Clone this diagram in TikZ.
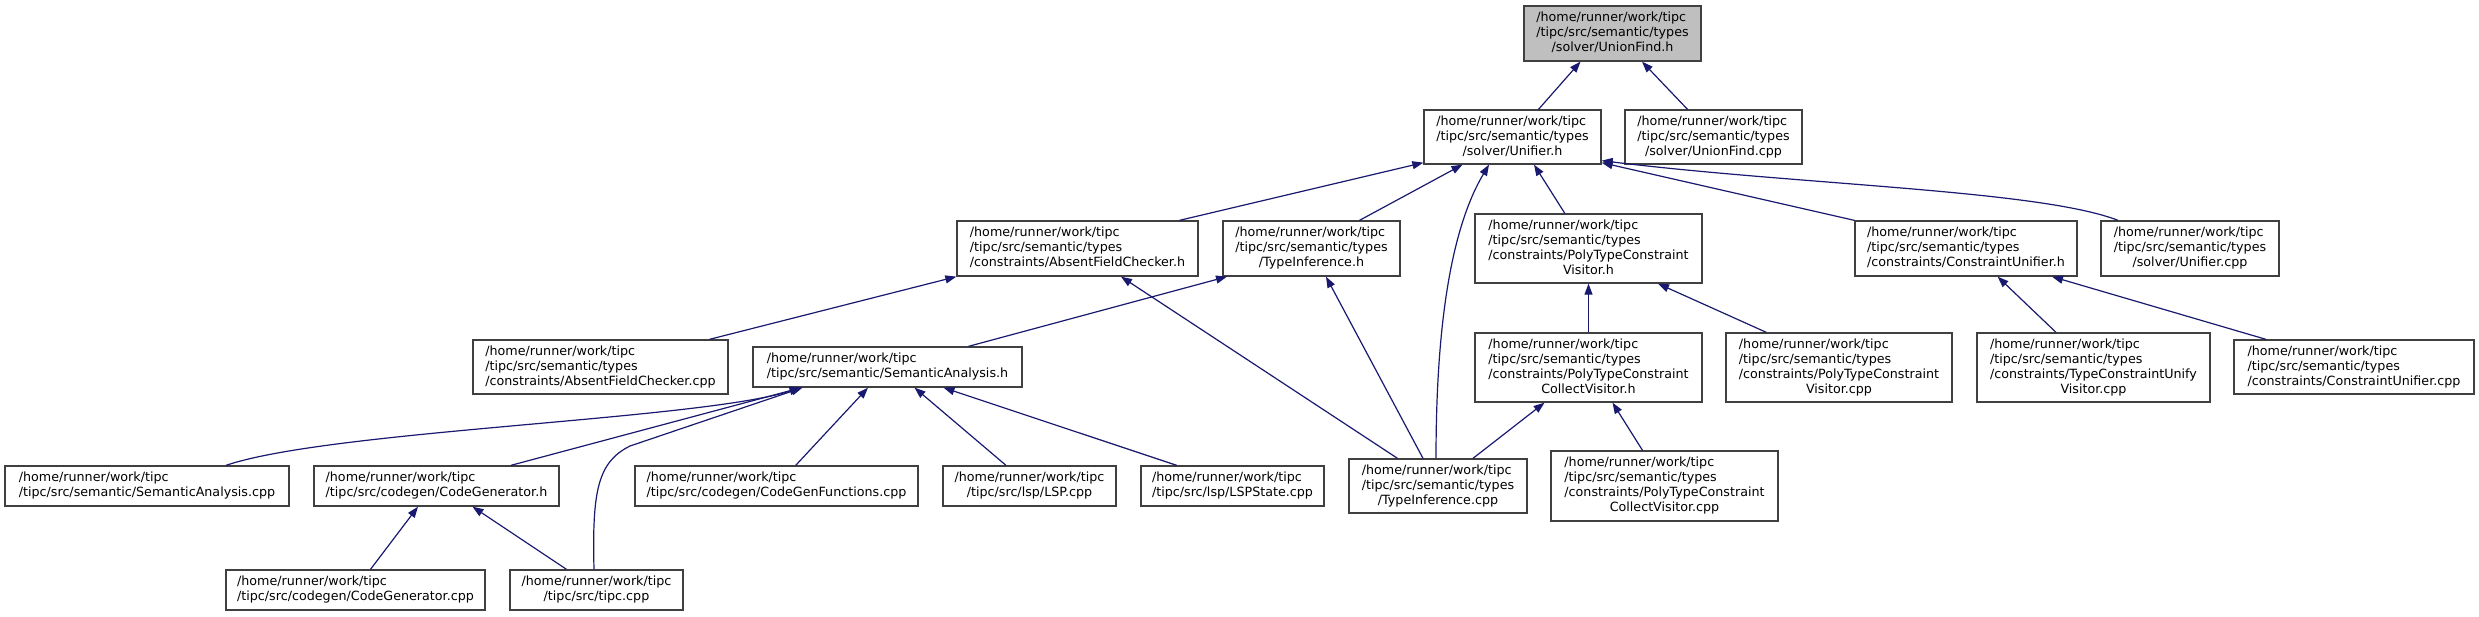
\documentclass[tikz,border=0pt]{standalone}
\usepackage{fontspec}
\setmainfont{DejaVu Sans}
\usetikzlibrary{arrows.meta}
\definecolor{edgeblue}{HTML}{191970}
\definecolor{boxline}{HTML}{404040}
\definecolor{curfill}{HTML}{BFBFBF}
\newcommand{\lbl}[2]{\begin{tabular}{@{}l@{}}#1\\\multicolumn{1}{@{}c@{}}{#2}\end{tabular}}
\newcommand{\hrw}{/home/runner/work/tipc}
\newcommand{\tst}{/tipc/src/semantic/types}
\tikzset{
  box/.style={draw=boxline, line width=1.3pt, fill=white, inner sep=0pt, font=\fontsize{12.7}{15}\selectfont},
  cur/.style={box, fill=curfill},
  edge/.style={draw=edgeblue, line width=1.2pt, -{Triangle[length=11pt,width=8pt,fill=edgeblue]}}
}
\begin{document}
\begin{tikzpicture}[x=1pt,y=-1pt]
\useasboundingbox[fill=white] (0,0) rectangle (2479,616);
% row 0
\node[cur, minimum width=177pt, minimum height=55pt] (UFh) at (1612.5,33.5) {\lbl{\hrw\\\tst}{/solver/UnionFind.h}};
% row 1
\node[box, minimum width=177pt, minimum height=54pt] (Unifh) at (1512.5,137) {\lbl{\hrw\\\tst}{/solver/Unifier.h}};
\node[box, minimum width=177pt, minimum height=54pt] (UFcpp) at (1713.5,137) {\lbl{\hrw\\\tst}{/solver/UnionFind.cpp}};
% row 2
\node[box, minimum width=241pt, minimum height=55pt] (AFCh) at (1077.5,248.5) {\lbl{\hrw\\\tst}{/constraints/AbsentFieldChecker.h}};
\node[box, minimum width=177pt, minimum height=55pt] (TIh) at (1311.5,248.5) {\lbl{\hrw\\\tst}{/TypeInference.h}};
\node[box, minimum width=227pt, minimum height=69pt] (PTCVh) at (1588.5,248.5) {\lbl{\hrw\\\tst\\/constraints/PolyTypeConstraint}{Visitor.h}};
\node[box, minimum width=222pt, minimum height=55pt] (CUh) at (1966,248.5) {\lbl{\hrw\\\tst}{/constraints/ConstraintUnifier.h}};
\node[box, minimum width=178pt, minimum height=55pt] (Unifcpp) at (2190,248.5) {\lbl{\hrw\\\tst}{/solver/Unifier.cpp}};
% row 3
\node[box, minimum width=255pt, minimum height=54pt] (AFCcpp) at (600.5,367) {\lbl{\hrw\\\tst}{/constraints/AbsentFieldChecker.cpp}};
\node[box, minimum width=269pt, minimum height=40pt] (SAh) at (887.5,367) {\lbl{\hrw}{/tipc/src/semantic/SemanticAnalysis.h}};
\node[box, minimum width=227pt, minimum height=69pt] (PTCCVh) at (1588.5,367.5) {\lbl{\hrw\\\tst\\/constraints/PolyTypeConstraint}{CollectVisitor.h}};
\node[box, minimum width=226pt, minimum height=69pt] (PTCVcpp) at (1839,367.5) {\lbl{\hrw\\\tst\\/constraints/PolyTypeConstraint}{Visitor.cpp}};
\node[box, minimum width=233pt, minimum height=69pt] (TCUVcpp) at (2093.5,367.5) {\lbl{\hrw\\\tst\\/constraints/TypeConstraintUnify}{Visitor.cpp}};
\node[box, minimum width=240pt, minimum height=54pt] (CUcpp) at (2354,367) {\lbl{\hrw\\\tst}{/constraints/ConstraintUnifier.cpp}};
% row 4
\node[box, minimum width=284pt, minimum height=40pt] (SAcpp) at (147,486) {\lbl{\hrw}{/tipc/src/semantic/SemanticAnalysis.cpp}};
\node[box, minimum width=245pt, minimum height=40pt] (CGh) at (436.5,486) {\lbl{\hrw}{/tipc/src/codegen/CodeGenerator.h}};
\node[box, minimum width=283pt, minimum height=40pt] (CGFcpp) at (776.5,486) {\lbl{\hrw}{/tipc/src/codegen/CodeGenFunctions.cpp}};
\node[box, minimum width=173pt, minimum height=40pt] (LSPcpp) at (1029.5,486) {\lbl{\hrw}{/tipc/src/lsp/LSP.cpp}};
\node[box, minimum width=183pt, minimum height=40pt] (LSPScpp) at (1232.5,486) {\lbl{\hrw}{/tipc/src/lsp/LSPState.cpp}};
\node[box, minimum width=178pt, minimum height=54pt] (TIcpp) at (1438,486) {\lbl{\hrw\\\tst}{/TypeInference.cpp}};
\node[box, minimum width=227pt, minimum height=70pt] (PTCCVcpp) at (1664.5,486) {\lbl{\hrw\\\tst\\/constraints/PolyTypeConstraint}{CollectVisitor.cpp}};
% row 5
\node[box, minimum width=259pt, minimum height=40pt] (CGcpp) at (355.5,590) {\lbl{\hrw}{/tipc/src/codegen/CodeGenerator.cpp}};
\node[box, minimum width=173pt, minimum height=40pt] (tipccpp) at (596.5,590) {\lbl{\hrw}{/tipc/src/tipc.cpp}};
% edges (child -> parent, arrow at parent)
\draw[edge] ([xshift=26pt]Unifh.north) -- ([xshift=-32pt]UFh.south);
\draw[edge] ([xshift=-26pt]UFcpp.north) -- ([xshift=29.5pt]UFh.south);
\draw[edge] ([xshift=102pt]AFCh.north) -- ([yshift=2pt]Unifh.south west);
\draw[edge] ([xshift=48pt]TIh.north) -- ([xshift=-50pt]Unifh.south);
\draw[edge] ([xshift=-2pt]TIcpp.north) .. controls (1436,330) and (1450,230) .. ([xshift=-23.5pt]Unifh.south);
\draw[edge] ([xshift=-23.7pt]PTCVh.north) -- ([xshift=21.5pt]Unifh.south);
\draw[edge] (CUh.north west) -- ([yshift=2pt]Unifh.south east);
\draw[edge] ([xshift=-72pt]Unifcpp.north) .. controls (2040,190) and (1800,185) .. ([yshift=4pt]Unifh.south east);
\draw[edge] ([xshift=109pt]AFCcpp.north) -- (AFCh.south west);
\draw[edge] ([xshift=-40.5pt]TIcpp.north) -- ([xshift=43.5pt]AFCh.south);
\draw[edge] ([xshift=81pt]SAh.north) -- ([xshift=-84.5pt]TIh.south);
\draw[edge] ([xshift=-15pt]TIcpp.north) -- ([xshift=14.5pt]TIh.south);
\draw[edge] (PTCCVh.north) -- (PTCVh.south);
\draw[edge] ([xshift=-72.7pt]PTCVcpp.north) -- ([xshift=69.5pt]PTCVh.south);
\draw[edge] ([xshift=-37.5pt]TCUVcpp.north) -- ([xshift=31.6pt]CUh.south);
\draw[edge] ([xshift=-88pt]CUcpp.north) -- ([xshift=86pt]CUh.south);
\draw[edge] ([xshift=79pt]SAcpp.north) .. controls (330,430) and (700,420) .. ([xshift=-87pt]SAh.south);
\draw[edge] ([xshift=74.4pt]CGh.north) -- ([xshift=-86pt]SAh.south);
\draw[edge] ([xshift=19.2pt]CGFcpp.north) -- ([xshift=-19.5pt]SAh.south);
\draw[edge] ([xshift=-23.5pt]LSPcpp.north) -- ([xshift=27pt]SAh.south);
\draw[edge] ([xshift=-55.8pt]LSPScpp.north) -- ([xshift=56pt]SAh.south);
\draw[edge] ([xshift=-2.5pt]tipccpp.north) .. controls (592,490) and (598,462) .. (630,446) -- ([xshift=-85pt]SAh.south);
\draw[edge] ([xshift=35pt]TIcpp.north) -- ([xshift=-44pt]PTCCVh.south);
\draw[edge] ([xshift=-22pt]PTCCVcpp.north) -- ([xshift=24pt]PTCCVh.south);
\draw[edge] ([xshift=15pt]CGcpp.north) -- ([xshift=-18.5pt]CGh.south);
\draw[edge] ([xshift=-30pt]tipccpp.north) -- ([xshift=36pt]CGh.south);
\end{tikzpicture}
\end{document}
